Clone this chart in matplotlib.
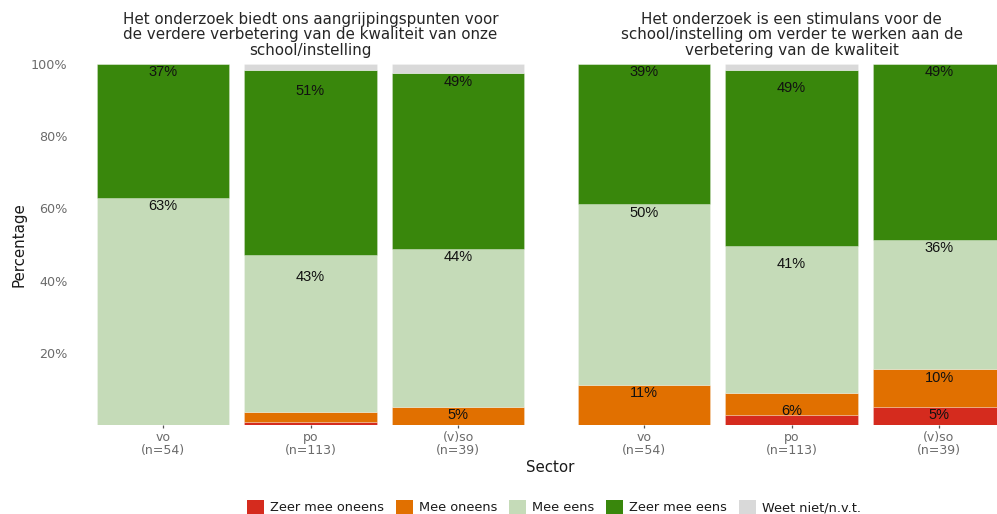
import numpy as np
import matplotlib
matplotlib.use("Agg")
import matplotlib.pyplot as plt
from matplotlib.patches import Patch

# Answer categories (stacking order, bottom to top) and their colours
answers = ["Zeer mee oneens", "Mee oneens", "Mee eens", "Zeer mee eens", "Weet niet/n.v.t."]
colors = ["#D52B1E", "#E17000", "#C5DBB8", "#39870C", "#D9D9D9"]

sectors = ["vo\n(n=54)", "po\n(n=113)", "(v)so\n(n=39)"]

titles = [
    "Het onderzoek biedt ons aangrijpingspunten voor\nde verdere verbetering van de kwaliteit van onze\nschool/instelling",
    "Het onderzoek is een stimulans voor de\nschool/instelling om verder te werken aan de\nverbetering van de kwaliteit",
]

# Percentages per sector (rows: vo, po, (v)so; columns follow `answers`)
pct_aangrijpingspunten = [
    [0.0, 0.0, 63.0, 37.0, 0.0],
    [0.9, 2.7, 43.4, 51.3, 1.7],
    [0.0, 5.1, 43.6, 48.7, 2.6],
]
pct_stimulans = [
    [0.0, 11.1, 50.0, 38.9, 0.0],
    [2.7, 6.2, 40.7, 48.7, 1.7],
    [5.1, 10.3, 35.9, 48.7, 0.0],
]
panels = [pct_aangrijpingspunten, pct_stimulans]

yticks = [20, 40, 60, 80, 100]
label_min = 5  # only segments of at least this size get a label

W, H = 997, 514
fig = plt.figure(figsize=(W / 100, H / 100), dpi=100)

def px_box(x0, x1, ytop, ybot):
    return [x0 / W, 1 - ybot / H, (x1 - x0) / W, (ybot - ytop) / H]

boxes = [px_box(74.5, 546.5, 64, 425), px_box(555.5, 1027.5, 64, 425)]
tick_color = "#6B6B6B"

for i, (data, title, box) in enumerate(zip(panels, titles, boxes)):
    ax = fig.add_axes(box)
    arr = np.array(data)
    x = np.arange(len(sectors))
    bottom = np.zeros(len(sectors))
    for j, (name, col) in enumerate(zip(answers, colors)):
        ax.bar(x, arr[:, j], 0.9, bottom=bottom, color=col,
               edgecolor=(1, 1, 1, 0.35), linewidth=0.5)
        bottom += arr[:, j]

    # value labels, stacked over the labelled segments only
    for k in range(len(sectors)):
        vals = arr[k]
        shown = vals >= label_min
        tops = np.cumsum(np.where(shown, vals, 0))
        for v, s, t in zip(vals, shown, tops):
            if s:
                ax.text(x[k], t - 2.3, f"{round(v):.0f}%", ha="center", va="center",
                        fontsize=10.5, family="Liberation Sans", color="#111111")

    ax.set_xlim(-0.6, 2.6)
    ax.set_ylim(0, 100)
    for sp in ax.spines.values():
        sp.set_visible(False)
    ax.set_xticks(x)
    ax.set_xticklabels(sectors, fontsize=9.0, color=tick_color, linespacing=1.08)
    ax.tick_params(axis="x", length=2.5, width=0.9, color="#555555", pad=1.5)
    if i == 0:
        ax.set_yticks(yticks)
        ax.set_yticklabels([f"{t}%" for t in yticks], fontsize=9.2, color=tick_color)
        ax.tick_params(axis="y", length=0, pad=5)
    else:
        ax.set_yticks([])

    cx = (box[0] + box[2] / 2)
    fig.text(cx, 1 - 35 / H, title, ha="center", va="center", fontsize=10.9,
             color="#262626", linespacing=1.07)

fig.text(550.5 / W, 1 - 467 / H, "Sector", ha="center", va="center",
         fontsize=10.8, color="#1A1A1A")
fig.text(19 / W, 1 - 244.5 / H, "Percentage", ha="center", va="center",
         rotation=90, fontsize=10.8, color="#1A1A1A")

handles = [Patch(facecolor=c, edgecolor="none", label=a) for a, c in zip(answers, colors)]
fig.legend(handles=handles, loc="center", bbox_to_anchor=(554 / W, 1 - 507 / H),
           ncol=5, frameon=False, fontsize=9.3, handlelength=1.3, handleheight=1.3,
           handletextpad=0.5, columnspacing=0.9, labelcolor="#1A1A1A")

fig.savefig("out.png", dpi=100)
